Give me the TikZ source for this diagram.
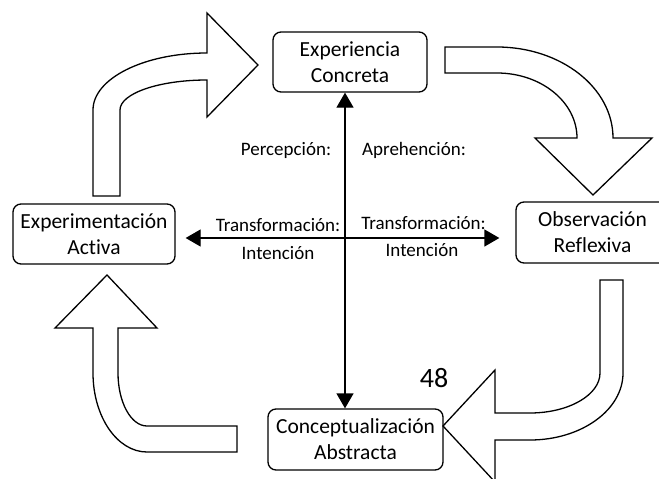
\documentclass[tikz,border=0pt]{standalone}
\usepackage{fontspec}
\setmainfont{Carlito}[Ligatures=NoCommon]
\usetikzlibrary{arrows.meta}
\begin{document}
\begin{tikzpicture}[x=1pt,y=-1pt,
  box/.style={draw, rounded corners=8pt, line width=1.3pt, align=center, inner sep=0pt,
    font=\fontsize{21.5}{26}\selectfont},
  lbl/.style={font=\fontsize{19}{22}\selectfont, inner sep=0pt},
  blk/.style={draw, fill=white, line width=1.3pt, line join=miter},
  arr/.style={line width=1.3pt, {Triangle[length=15pt,width=17pt]}-{Triangle[length=15pt,width=17pt]}}]
\useasboundingbox (0,0) rectangle (659,479);
\clip (0,0) rectangle (659,479);
% block arrows
\path[blk] (93,196) -- (93,110) .. controls (93,78.5) and (144,53) .. (207,53) -- (207,13) -- (258,65) -- (207,117) -- (207,80) .. controls (159,80) and (120,93.4) .. (120,110) -- (120,196) -- cycle;
\path[blk] (445,47) -- (497,47) .. controls (561,47) and (613,87.8) .. (613,138) -- (652,138) -- (593,195) -- (535,138) -- (577,138) .. controls (577,102) and (541,73) .. (497,73) -- (445,73) -- cycle;
\path[blk] (623,280) -- (623,373) .. controls (623,410) and (581.3,440) .. (530,440) -- (495,440) -- (495,482) -- (443,426) -- (495,370) -- (495,413) -- (530,413) .. controls (568.6,413) and (600,395) .. (600,373) -- (600,280) -- cycle;
\path[blk] (237,452) -- (147,452) .. controls (117.2,452) and (93,416.6) .. (93,373) -- (93,328) -- (55,328) -- (107,275) -- (157,328) -- (118,328) -- (118,373) .. controls (118,402.3) and (131,426) .. (147,426) -- (237,426) -- cycle;
% boxes
\node[box, minimum width=154pt, minimum height=60pt] (ec) at (350,62) {Experiencia\\Concreta};
\node[box, minimum width=162pt, minimum height=60pt] (ea) at (94,234) {Experimentación\\Activa};
\node[box, minimum width=175pt, minimum height=61pt] (ca) at (355.5,439.5) {Conceptualización\\Abstracta};
\node[box, minimum width=153pt, minimum height=61pt] (or) at (592.5,232.5) {Observación\\Reflexiva};
% cross
\coordinate (mid) at (345,238);
\draw[arr] (ec.south -| mid) -- (ca.north -| mid);
\draw[arr] ([xshift=10pt]ea.east |- mid) -- ([xshift=-16pt]or.west |- mid);
% labels
\node[lbl] (pe) at (286,150) {Percepción:};
\node[lbl] (ap) at (414,150) {Aprehención:};
\node[lbl] (t1) at (278,225) {Transformación:};
\node[lbl] (t2) at (423.5,223) {Transformación:};
\node[lbl] (i1) at (278,253) {Intención};
\node[lbl] (i2) at (422,250) {Intención};
\node[font=\fontsize{28}{32}\selectfont, inner sep=0pt] (n48) at (434,378) {48};
\end{tikzpicture}
\end{document}
